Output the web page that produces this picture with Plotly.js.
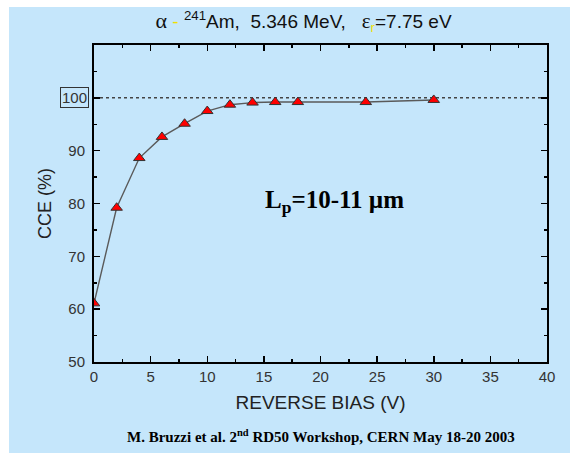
<!DOCTYPE html>
<html>
<head>
<meta charset="utf-8">
<script src="https://cdn.plot.ly/plotly-3.0.1.min.js"></script>
<style>
html,body{margin:0;padding:0;background:#ffffff;width:570px;height:453px;overflow:hidden;}
#chart{position:absolute;left:9px;top:7px;width:561px;height:446px;}
</style>
</head>
<body>
<div id="chart"></div>
<script>
const biasV = [0, 2, 4, 6, 8, 10, 12, 14, 16, 18, 24, 30];
const cce = [61.1, 79.2, 88.6, 92.6, 95.1, 97.5, 98.7, 99.1, 99.2, 99.2, 99.2, 99.6];
const refX = [0, 40];
const refY = [100, 100];
const yTickVals = [50, 60, 70, 80, 90, 100];
const yTickText = ['50', '60', '70', '80', '90', ''];
const xTickVals = [0, 5, 10, 15, 20, 25, 30, 35, 40];

const axisFont = {family: 'Liberation Sans, Arial, sans-serif', size: 15, color: '#333333'};

const traces = [
  {x: refX, y: refY, mode: 'lines', line: {color: '#444444', width: 1.5, dash: 'dot'}, hoverinfo: 'skip', showlegend: false},
  {x: biasV, y: cce, mode: 'lines+markers',
   line: {color: '#5a5a5a', width: 1.4},
   marker: {symbol: 'triangle-up', size: 10, color: '#ff0000', line: {color: '#333333', width: 1}},
   showlegend: false}
];

const layout = {
  width: 561, height: 446,
  paper_bgcolor: '#c5e6fb', plot_bgcolor: '#c5e6fb',
  margin: {l: 85, r: 23, t: 38, b: 91},
  title: {text: '<span style="font-family:Liberation Serif;font-size:22px">α</span> <span style="color:#f0e000">-</span> <sup>241</sup>Am,  5.346 MeV,   <span style="font-family:Liberation Serif;font-size:21px">ε</span><sub><span style="color:#f0e000">r</span></sub>=7.75 eV',
          font: {family: 'Liberation Sans, Arial, sans-serif', size: 19, color: '#111111'},
          x: 0.525, xanchor: 'center', y: 0.982, yanchor: 'top'},
  xaxis: {range: [0, 40], tickvals: xTickVals, ticks: 'inside', ticklen: 6, tickwidth: 1.5, tickcolor: '#000',
          minor: {dtick: 2.5, ticks: 'inside', ticklen: 3, tickwidth: 1.5, tickcolor: '#000'},
          showline: true, linecolor: '#000', linewidth: 2, mirror: 'allticks', showgrid: false, zeroline: false,
          tickfont: axisFont,
          title: {text: 'REVERSE BIAS (V)', font: {family: 'Liberation Sans, Arial, sans-serif', size: 19, color: '#222'}, standoff: 12}},
  yaxis: {range: [50, 110], tickvals: yTickVals, ticktext: yTickText, ticks: 'inside', ticklen: 6, tickwidth: 1.5, tickcolor: '#000',
          minor: {dtick: 5, ticks: 'inside', ticklen: 3, tickwidth: 1.5, tickcolor: '#000'},
          showline: true, linecolor: '#000', linewidth: 2, mirror: 'allticks', showgrid: false, zeroline: false,
          tickfont: axisFont, ticklabelstandoff: 4,
          title: {text: 'CCE (%)', font: {family: 'Liberation Sans, Arial, sans-serif', size: 18, color: '#222'}, standoff: 12}},
  annotations: [
    {xref: 'paper', yref: 'y', x: -0.012, y: 100, xanchor: 'right', yanchor: 'middle', text: '100', showarrow: false,
     font: axisFont, bordercolor: '#333', borderwidth: 1, borderpad: 1},
    {xref: 'x', yref: 'y', x: 21.2, y: 80.4, text: '<b>L<sub>p</sub>=10-11 µm</b>', showarrow: false,
     font: {family: 'Liberation Serif, Times New Roman, serif', size: 25, color: '#000'}},
    {xref: 'paper', yref: 'paper', x: 0.5, y: -0.235, yanchor: 'middle', text: '<b>M. Bruzzi et al. 2<sup>nd</sup> RD50 Workshop, CERN May 18-20 2003</b>', showarrow: false,
     font: {family: 'Liberation Serif, Times New Roman, serif', size: 15, color: '#000'}}
  ]
};

Plotly.newPlot('chart', traces, layout, {displayModeBar: false, staticPlot: true});
</script>
</body>
</html>
